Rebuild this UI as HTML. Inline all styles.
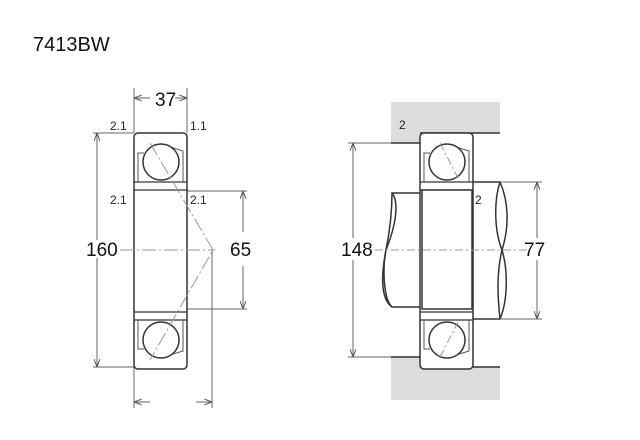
<!DOCTYPE html>
<html><head><style>body{margin:0;background:#fff}svg{display:block}</style></head><body>
<svg width="640" height="440" viewBox="0 0 640 440" xmlns="http://www.w3.org/2000/svg" font-family="Liberation Sans, sans-serif">
<defs>
<marker id="a" markerWidth="8" markerHeight="6" refX="8" refY="3" orient="auto"><path d="M0,0L8,3L0,6" fill="none" stroke="#555" stroke-width="1"/></marker>
<g id="bear">
<rect x="0" y="0" width="53" height="236" rx="4" fill="#fff" stroke="#333" stroke-width="1.5"/>
<line x1="0" y1="49" x2="53" y2="49" stroke="#333" stroke-width="1.2"/>
<line x1="0" y1="57" x2="53" y2="57" stroke="#333" stroke-width="1.2"/>
<line x1="0" y1="179" x2="53" y2="179" stroke="#333" stroke-width="1.2"/>
<line x1="0" y1="187" x2="53" y2="187" stroke="#333" stroke-width="1.2"/>
<path d="M4,49V20H10M49,49V18L36,14" fill="none" stroke="#555"/>
<path d="M4,187V216H10M49,187V218L36,222" fill="none" stroke="#555"/>
<circle cx="27" cy="29" r="18" fill="#fff" stroke="#333" stroke-width="1.5"/>
<circle cx="27" cy="207" r="18" fill="#fff" stroke="#333" stroke-width="1.5"/>
</g>
</defs>
<text x="33" y="51" font-size="20" fill="#111">7413BW</text>
<g stroke="#666" stroke-width="1" fill="none">
<line x1="134" y1="88" x2="134" y2="133"/><line x1="187" y1="88" x2="187" y2="133"/>
<line x1="150" y1="98" x2="134" y2="98" marker-end="url(#a)"/><line x1="175" y1="98" x2="187" y2="98" marker-end="url(#a)"/>
<line x1="93" y1="133" x2="134" y2="133"/><line x1="93" y1="367" x2="134" y2="367"/>
<line x1="97" y1="240" x2="97" y2="133" marker-end="url(#a)"/><line x1="97" y1="258" x2="97" y2="367" marker-end="url(#a)"/>
<line x1="187" y1="191" x2="247" y2="191"/><line x1="187" y1="309" x2="247" y2="309"/>
<line x1="243" y1="232" x2="243" y2="191" marker-end="url(#a)"/><line x1="243" y1="266" x2="243" y2="309" marker-end="url(#a)"/>
<line x1="134" y1="367" x2="134" y2="408"/><line x1="212" y1="250" x2="212" y2="408"/>
<line x1="150" y1="402" x2="134" y2="402" marker-end="url(#a)"/><line x1="196" y1="402" x2="212" y2="402" marker-end="url(#a)"/>
</g>
<use href="#bear" x="134" y="133"/>
<g stroke="#999" stroke-width="1" fill="none" stroke-dasharray="14,3,2,3">
<line x1="120" y1="250" x2="215" y2="250"/>
<path d="M150,143L213,250L150,360"/>
</g>
<g font-size="12" fill="#222"><text x="110" y="130">2.1</text><text x="190" y="130">1.1</text><text x="110" y="204">2.1</text><text x="190" y="204">2.1</text></g>
<g font-size="19" fill="#111"><text x="155" y="106">37</text><text x="86" y="256">160</text><text x="230" y="256">65</text><text x="341" y="256">148</text><text x="524" y="256">77</text></g>
<rect x="391" y="102" width="109" height="31" fill="#ddd"/><rect x="391" y="133" width="29" height="10" fill="#ddd"/>
<rect x="391" y="367" width="109" height="33" fill="#ddd"/><rect x="391" y="357" width="29" height="10" fill="#ddd"/>
<g stroke="#333" stroke-width="1.5" fill="#fff">
<line x1="391" y1="143" x2="420" y2="143"/><line x1="420" y1="133" x2="500" y2="133"/>
<line x1="391" y1="357" x2="420" y2="357"/><line x1="420" y1="367" x2="500" y2="367"/>
<path d="M392,193H422V307H392C382,300 380,280 386,250C392,220 392,200 392,193Z"/>
<path d="M472,182H500C508,200 510,225 502,250C496,275 498,300 500,319H472Z"/>
<path d="M392,193C398,200 398,220 386,250C382,270 384,300 392,307" fill="none"/>
<path d="M500,182C494,200 494,230 502,250C508,270 508,300 500,319" fill="none"/>
</g>
<use href="#bear" x="420" y="133"/>
<rect x="422" y="190" width="50" height="119" fill="#fff" stroke="#333" stroke-width="1.5"/>
<g stroke="#999" stroke-dasharray="8,3,2,3"><line x1="375" y1="250" x2="530" y2="250"/><line x1="440" y1="143" x2="458" y2="178"/><line x1="440" y1="357" x2="458" y2="322"/></g>
<g stroke="#666" stroke-width="1" fill="none">
<line x1="348" y1="143" x2="391" y2="143"/><line x1="348" y1="357" x2="391" y2="357"/>
<line x1="353" y1="238" x2="353" y2="143" marker-end="url(#a)"/><line x1="353" y1="260" x2="353" y2="357" marker-end="url(#a)"/>
<line x1="500" y1="182" x2="542" y2="182"/><line x1="500" y1="319" x2="542" y2="319"/>
<line x1="537" y1="238" x2="537" y2="182" marker-end="url(#a)"/><line x1="537" y1="260" x2="537" y2="319" marker-end="url(#a)"/>
</g>
<g font-size="12" fill="#222"><text x="399" y="129">2</text><text x="475" y="204">2</text></g>
</svg>
</body></html>
